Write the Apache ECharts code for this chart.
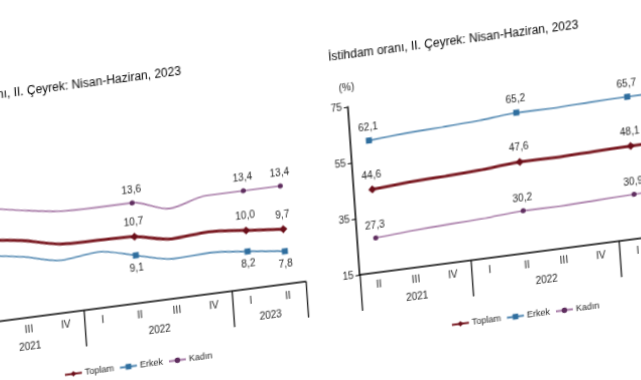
<!DOCTYPE html>
<html>
<head>
<meta charset="utf-8">
<script src="https://cdn.jsdelivr.net/npm/echarts@6/dist/echarts.min.js"></script>
<style>
html,body{margin:0;padding:0;background:#fff;width:641px;height:380px;overflow:hidden;position:relative;}
.chart{position:absolute;width:420px;height:380px;transform-origin:0 0;transform:matrix(1,-0.13,0.07,1,0,0);}
#left{left:-87px;top:50px;}
#right{left:300px;top:0px;}
</style>
</head>
<body>
<div id="left" class="chart"></div>
<div id="right" class="chart"></div>
<script>
// ---- data ----
const quarters = ['II','III','IV','I','II','III','IV','I','II'];
const years = ['2021','2022','2023'];
const yearSpans = [3, 4, 2];
const seriesNames = ['Toplam','Erkek','Kadın'];
const labeledIdx = [0, 4, 7, 8];

const unempTitle = 'İşsizlik oranı, II. Çeyrek: Nisan-Haziran, 2023';
const unempTotal  = [12.0, 11.6, 10.9, 10.8, 10.7, 10.1, 10.3, 10.0, 9.7];
const unempMale   = [10.7, 10.2, 9.5, 9.8, 9.1, 8.4, 8.5, 8.2, 7.8];
const unempFemale = [14.8, 14.2, 13.7, 13.6, 13.6, 12.7, 13.4, 13.4, 13.4];
const unempTicks  = [5, 10, 15, 20];

const empTitle = 'İstihdam oranı, II. Çeyrek: Nisan-Haziran, 2023';
const empTotal  = [44.6, 45.5, 46.0, 46.6, 47.6, 47.5, 47.9, 48.1, 48.3];
const empMale   = [62.1, 63.0, 63.5, 64.1, 65.2, 65.1, 65.5, 65.7, 65.8];
const empFemale = [27.3, 28.2, 28.8, 29.3, 30.2, 30.1, 30.5, 30.9, 31.0];
const empTicks  = [15, 35, 55, 75];

// ---- helpers ----
const FONT = "'Liberation Sans', Arial, sans-serif";
function fmt(v){ return v.toFixed(1).replace('.', ','); }

const yearCenters = [], yearBounds = [];
(function(){
  let s = -0.5;
  yearSpans.forEach(n => { yearBounds.push(s); yearCenters.push(s + n / 2); s += n; });
  yearBounds.push(s);
})();

const styles = {
  'Toplam': {line:'#7a1a22', width:3, symbol:'diamond', size:8, item:'#6a0d18'},
  'Erkek':  {line:'#4f86b0', width:1.6, symbol:'rect', size:6, item:'#2f6e9e'},
  'Kadın':  {line:'#a77aa7', width:1.6, symbol:'circle', size:5, item:'#5e2d5e'}
};

function makeSeries(name, values, labelPos, smooth){
  const st = styles[name];
  return {
    name: name, type: 'line', xAxisIndex: 0, yAxisIndex: 0,
    smooth: smooth, symbol: st.symbol, symbolSize: st.size, showAllSymbol: true,
    lineStyle: {color: st.line, width: st.width},
    itemStyle: {color: st.item},
    label: {show: true, position: labelPos, distance: 5, fontSize: 10, color: '#222', fontFamily: FONT,
            formatter: p => fmt(p.value)},
    data: values.map((v, i) => labeledIdx.indexOf(i) >= 0
      ? {value: v}
      : {value: v, symbol: 'none', label: {show: false}})
  };
}

function build(cfg){
  return {
    animation: false,
    textStyle: {fontFamily: FONT},
    title: {text: cfg.title, left: 19, top: cfg.titleTop,
            textStyle: {fontSize: 12, fontWeight: 'normal', color: '#000', fontFamily: FONT}},
    legend: {data: seriesNames, left: 122, top: 332, itemWidth: 17, itemHeight: 7, itemGap: 5,
             textStyle: {fontSize: 9, color: '#222', fontFamily: FONT, padding: [0, 0, 0, -2]}},
    grid: {left: 40, top: cfg.gridTop, width: 333, height: 280 - cfg.gridTop},
    xAxis: [
      {type: 'category', data: quarters, boundaryGap: true, position: 'bottom',
       axisLine: {onZero: false, lineStyle: {color: '#000', width: 1.5}},
       axisTick: {show: false},
       axisLabel: {fontSize: 10, color: '#222', margin: 7, fontFamily: FONT}},
      {type: 'value', min: -0.5, max: quarters.length - 0.5, interval: 0.5, position: 'bottom',
       axisLine: {show: false, onZero: false}, splitLine: {show: false},
       axisTick: {show: true, customValues: yearBounds, length: 36, lineStyle: {color: '#000', width: 1.2}},
       axisLabel: {customValues: yearCenters, margin: 24, fontSize: 10, color: '#222', fontFamily: FONT,
                   formatter: v => { const i = yearCenters.findIndex(c => Math.abs(c - v) < 1e-6); return i >= 0 ? years[i] : ''; }}}
    ],
    yAxis: {type: 'value', min: cfg.ticks[0], max: cfg.ticks[cfg.ticks.length - 1],
            interval: cfg.ticks[1] - cfg.ticks[0],
            name: '(%)', nameLocation: 'end', nameGap: 14,
            nameTextStyle: {fontSize: 10, color: '#222', fontFamily: FONT},
            axisLine: {show: true, onZero: false, lineStyle: {color: '#000', width: 1.5}},
            axisTick: {show: true, length: 4, lineStyle: {color: '#000'}},
            splitLine: {show: false},
            axisLabel: {fontSize: 10, color: '#222', margin: 6, fontFamily: FONT}},
    series: [
      makeSeries('Toplam', cfg.total, 'top', cfg.smooth),
      makeSeries('Erkek', cfg.male, cfg.maleLabel, cfg.smooth),
      makeSeries('Kadın', cfg.female, 'top', cfg.smooth)
    ]
  };
}

const leftChart = echarts.init(document.getElementById('left'), null, {renderer: 'canvas'});
leftChart.setOption(build({title: unempTitle, titleTop: 45, gridTop: 105, ticks: unempTicks,
  total: unempTotal, male: unempMale, female: unempFemale, maleLabel: 'bottom', smooth: 0.3}));

const rightChart = echarts.init(document.getElementById('right'), null, {renderer: 'canvas'});
rightChart.setOption(build({title: empTitle, titleTop: 50, gridTop: 112, ticks: empTicks,
  total: empTotal, male: empMale, female: empFemale, maleLabel: 'top', smooth: 0.2}));
</script>
</body>
</html>
